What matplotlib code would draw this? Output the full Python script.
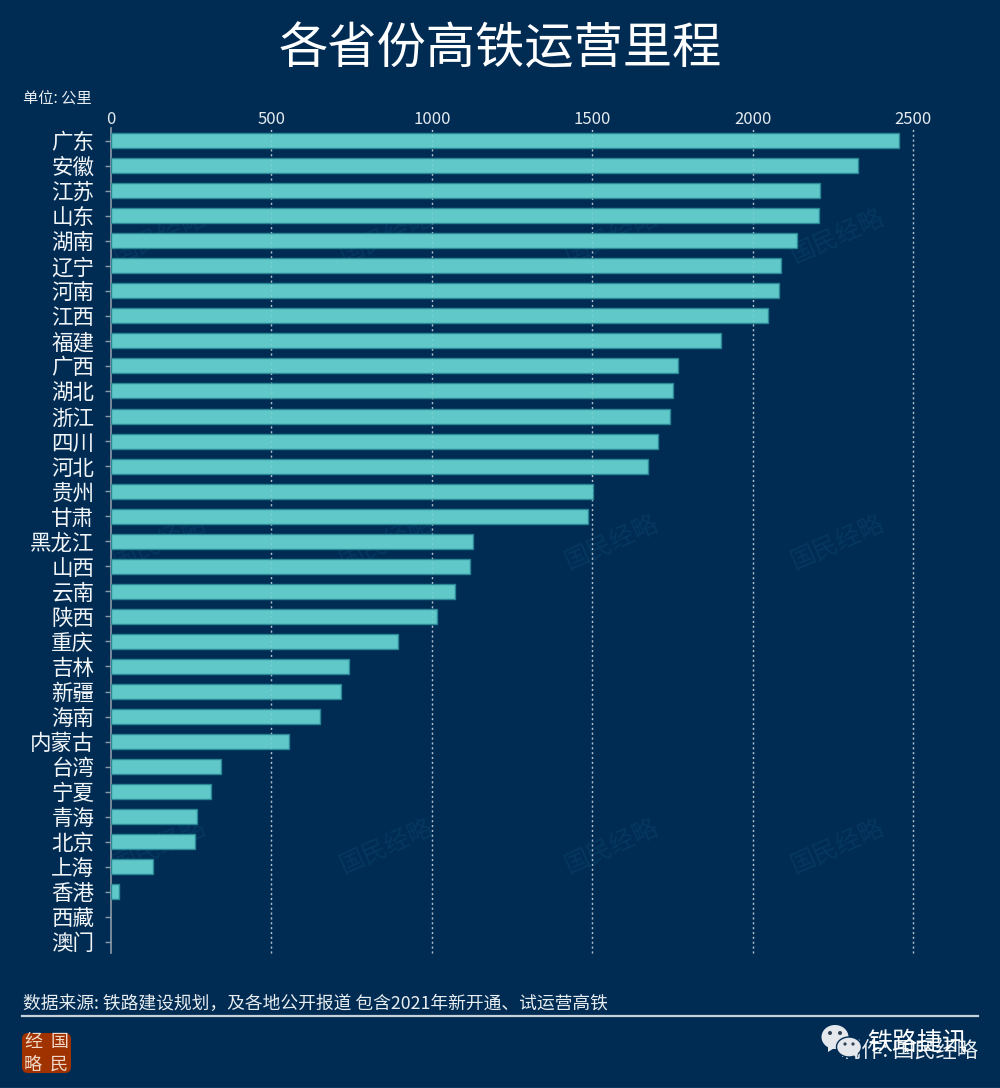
import matplotlib
matplotlib.use('Agg')
import matplotlib.pyplot as plt
from matplotlib.patches import FancyBboxPatch, Ellipse, Polygon

plt.rcParams['font.family'] = ['Noto Sans CJK SC', 'DejaVu Sans']

# --- dados ---
provincias = ['广东', '安徽', '江苏', '山东', '湖南', '辽宁', '河南', '江西', '福建', '广西', '湖北',
              '浙江', '四川', '河北', '贵州', '甘肃', '黑龙江', '山西', '云南', '陕西', '重庆', '吉林',
              '新疆', '海南', '内蒙古', '台湾', '宁夏', '青海', '北京', '上海', '香港', '西藏', '澳门']
km = [2456, 2329, 2210, 2208, 2138, 2088, 2082, 2048, 1901, 1767, 1752,
      1743, 1705, 1674, 1502, 1487, 1128, 1119, 1072, 1016, 895, 742,
      717, 652, 555, 343, 312, 268, 262, 131, 25, 0, 0]
ticks_x = [0, 500, 1000, 1500, 2000, 2500]

FUNDO = '#002C54'
BARRA = '#60C8C8'
W, H = 1000, 1088

fig = plt.figure(figsize=(W / 100, H / 100), dpi=100, facecolor=FUNDO)

# camada em pixels: marca d'agua e rodape
bg = fig.add_axes([0, 0, 1, 1], zorder=0)
bg.set_xlim(0, W)
bg.set_ylim(H, 0)
bg.axis('off')
for wx in [160, 387, 612, 838]:
    for wy in [236, 542, 846]:
        bg.text(wx, wy, '国民经略', color='#05375F', fontsize=18, rotation=24,
                ha='center', va='center', fontstyle='italic')

# --- grafico ---
ax = fig.add_axes([111 / W, 1 - 953 / H, (913 - 111) / W, (953 - 128) / H], zorder=1)
ax.patch.set_alpha(0)
y = list(range(len(provincias)))
larguras = [1 if v > 0 else 0 for v in km]  # sem borda nas barras zeradas
ax.barh(y, km, height=0.6, color=BARRA, edgecolor='#2A8796', linewidth=larguras, zorder=3)
ax.set_xlim(0, 2500)
ax.set_ylim(32.44, -0.5)
ax.set_yticks(y)
ax.set_yticklabels(provincias, fontsize=15.5, color='#F2F5F7')
ax.xaxis.tick_top()
ax.set_xticks(ticks_x)
ax.set_xticklabels(ticks_x, fontsize=12, color='#E4EAEE')
ax.tick_params(axis='y', length=4, width=1, color='#8C9BA8', pad=8)
ax.tick_params(axis='x', length=0, pad=0)
for gx in ticks_x[1:]:
    ax.axvline(gx, color='#A8B6C2', linestyle=(0, (1.5, 2)), linewidth=1, zorder=1, clip_on=False)
    ax.axvline(gx, color='#FFFFFF', alpha=0.15, linestyle=(0, (1.5, 2)), linewidth=1, zorder=4, clip_on=False)
for lado in ['top', 'right', 'bottom']:
    ax.spines[lado].set_visible(False)
ax.spines['left'].set_color('#8C9BA8')
ax.spines['left'].set_linewidth(1.2)

# --- textos ---
bg.text(500, 49, '各省份高铁运营里程', color='white', fontsize=35.5, ha='center', va='center')
bg.text(23, 99, '单位: 公里', color='#E8EDF0', fontsize=11, ha='left', va='center')
bg.text(23, 1004, '数据来源: 铁路建设规划，及各地公开报道 包含2021年新开通、试运营高铁',
        color='#E8EDF0', fontsize=12.8, ha='left', va='center')
bg.plot([22, 978], [1016, 1016], color='#C8D2DA', linewidth=1.6)
bg.plot([0, W], [1087.5, 1087.5], color='#3A6E8C', linewidth=1)

# selo
bg.add_patch(FancyBboxPatch((25, 1036), 43, 34, boxstyle='round,pad=3,rounding_size=6',
                            facecolor='#A03200', edgecolor='none'))
for sx, sy, s in [(33, 1042, '经'), (59, 1042, '国'), (33, 1065, '略'), (59, 1065, '民')]:
    bg.text(sx, sy, s, color='#F0D8C8', fontsize=13, ha='center', va='center', fontstyle='italic')

# rodape direito
bg.text(978, 1051, '制作: 国民经略', color='#E8EDF0', fontsize=15.3, ha='right', va='center')
bg.text(867, 1042, '铁路捷讯', color='white', fontsize=18, ha='left', va='center', zorder=7)

# icone wechat
bg.add_patch(Ellipse((835, 1037), 27, 24, facecolor='#E4E8EC', edgecolor='none', zorder=4))
bg.add_patch(Polygon([[828, 1045], [828, 1052], [836, 1047]], facecolor='#E4E8EC', zorder=4))
bg.add_patch(Ellipse((849, 1047), 25, 20, facecolor='#E4E8EC', edgecolor=FUNDO, linewidth=1, zorder=5))
bg.add_patch(Polygon([[853, 1054], [857, 1059], [858, 1052]], facecolor='#E4E8EC', zorder=5))
for ex, ey, r in [(830, 1033, 2), (840, 1033, 2), (845, 1044, 1.6), (853, 1044, 1.6)]:
    bg.add_patch(Ellipse((ex, ey), 2 * r, 2 * r, facecolor='#2C3E50', edgecolor='none', zorder=6))

fig.savefig('out.png', dpi=100, facecolor=FUNDO)
